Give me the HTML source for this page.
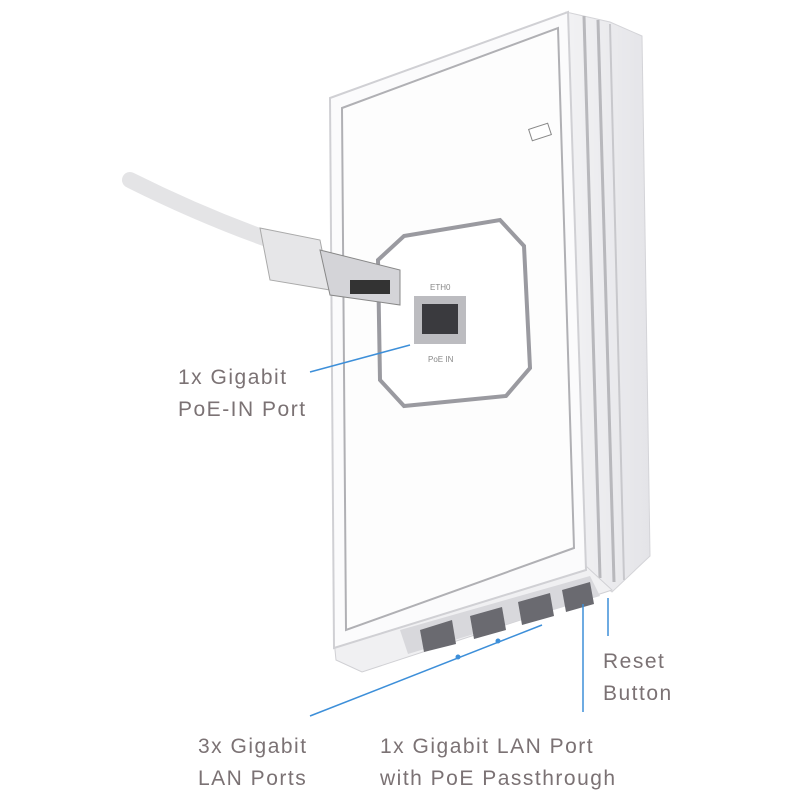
<!DOCTYPE html>
<html><head><style>
body{margin:0;background:#fff;}
svg{display:block}
text{font-family:"Liberation Sans",sans-serif;fill:#7b7274;font-size:21px;letter-spacing:1.5px;}
</style></head><body>
<svg width="800" height="800" viewBox="0 0 800 800">
<defs>
<linearGradient id="side" x1="0" x2="1"><stop offset="0" stop-color="#f2f2f4"/><stop offset="1" stop-color="#e4e4e8"/></linearGradient>
</defs>
<polygon points="566,12 610,22 642,36 650,556 612,592 586,572" fill="url(#side)" stroke="#d4d4d8"/>
<line x1="584" y1="16" x2="600" y2="578" stroke="#b8b8bc" stroke-width="3"/>
<line x1="598" y1="20" x2="614" y2="582" stroke="#b8b8bc" stroke-width="3"/>
<line x1="610" y1="24" x2="624" y2="580" stroke="#c8c8cc" stroke-width="2"/>
<polygon points="334,640 586,566 612,590 362,672 336,660" fill="#f0f0f2" stroke="#d0d0d4"/>
<polygon points="400,630 590,576 600,596 408,654" fill="#d8d8dc"/>
<g fill="#6a6a70">
<polygon points="420,630 452,620 456,644 424,652"/>
<polygon points="470,616 502,607 506,630 474,639"/>
<polygon points="518,602 550,593 554,616 522,625"/>
<polygon points="562,590 590,582 594,604 566,612"/>
</g>
<polygon points="330,98 568,12 586,570 334,648" fill="#fbfbfc" stroke="#d0d0d4" stroke-width="2"/>
<polygon points="342,108 558,28 574,548 346,630" fill="#fdfdfd" stroke="#b0b0b4" stroke-width="2"/>
<rect x="530" y="126" width="20" height="12" transform="rotate(-18 540 132)" fill="#fff" stroke="#888"/>
<polygon points="404,236 500,220 524,246 530,368 506,396 404,406 380,380 378,260" fill="#fff" stroke="#9a9aa0" stroke-width="4"/>
<rect x="414" y="296" width="52" height="48" fill="#bcbcc0"/>
<rect x="422" y="304" width="36" height="30" fill="#3a3a3e"/>
<text x="430" y="290" style="font-size:8px;fill:#888;letter-spacing:0">ETH0</text>
<text x="428" y="362" style="font-size:8px;fill:#888;letter-spacing:0">PoE IN</text>
<path d="M130,180 Q200,215 270,240" stroke="#e4e4e6" stroke-width="16" fill="none" stroke-linecap="round"/>
<polygon points="260,228 320,240 330,290 270,280" fill="#e6e6e8" stroke="#aaa"/>
<polygon points="320,250 400,270 400,305 330,295" fill="#d4d4d8" stroke="#888"/>
<rect x="350" y="280" width="40" height="14" fill="#333"/>
<g stroke="#3d8fd9" stroke-width="1.5" fill="none">
<line x1="310" y1="372" x2="410" y2="345"/>
<line x1="310" y1="716" x2="542" y2="625"/>
<line x1="583" y1="604" x2="583" y2="712"/>
<line x1="608" y1="598" x2="608" y2="636"/>
</g>
<circle cx="458" cy="657" r="2.5" fill="#3d8fd9"/>
<circle cx="498" cy="641" r="2.5" fill="#3d8fd9"/>
<text x="178" y="384">1x Gigabit</text>
<text x="178" y="416">PoE-IN Port</text>
<text x="198" y="753">3x Gigabit</text>
<text x="198" y="785">LAN Ports</text>
<text x="380" y="753">1x Gigabit LAN Port</text>
<text x="380" y="785">with PoE Passthrough</text>
<text x="603" y="668">Reset</text>
<text x="603" y="700">Button</text>
</svg>
</body></html>
